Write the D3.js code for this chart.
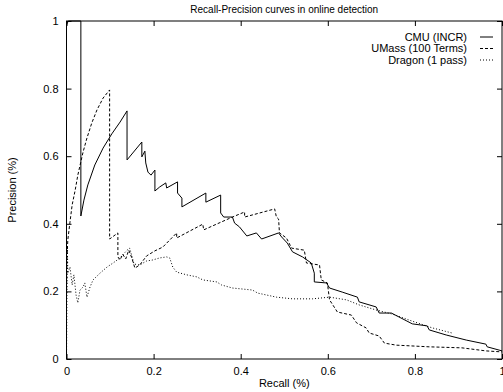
<!DOCTYPE html>
<html>
<head>
<meta charset="utf-8">
<script src="https://cdn.jsdelivr.net/npm/d3@7"></script>
<style>
  body { margin: 0; background: #fff; }
  svg { display: block; font-family: "Liberation Sans", Arial, sans-serif; }
</style>
</head>
<body>
<div id="chart"></div>
<script>
// recall / precision pairs
const cmuPoints = [
  [0, 0.988], [0.004, 1.0], [0.033, 1.0], [0.033, 0.423], [0.040, 0.470], [0.049, 0.515],
  [0.065, 0.574], [0.084, 0.624], [0.104, 0.666], [0.123, 0.701], [0.139, 0.734], [0.139, 0.589],
  [0.173, 0.642], [0.173, 0.598], [0.180, 0.615], [0.182, 0.580], [0.187, 0.553], [0.194, 0.544],
  [0.203, 0.559], [0.203, 0.497], [0.214, 0.509], [0.228, 0.521], [0.230, 0.506], [0.255, 0.524],
  [0.255, 0.491], [0.265, 0.476], [0.265, 0.450], [0.320, 0.491], [0.320, 0.464], [0.354, 0.485],
  [0.354, 0.432], [0.361, 0.420], [0.381, 0.420], [0.386, 0.402], [0.397, 0.391], [0.414, 0.364],
  [0.436, 0.373], [0.448, 0.355], [0.487, 0.373], [0.494, 0.361], [0.507, 0.343], [0.519, 0.317],
  [0.542, 0.302], [0.562, 0.284], [0.569, 0.254], [0.569, 0.228], [0.597, 0.225], [0.604, 0.210],
  [0.633, 0.198], [0.668, 0.183], [0.672, 0.169], [0.711, 0.154], [0.718, 0.136], [0.746, 0.136],
  [0.794, 0.104], [0.828, 0.098], [0.833, 0.086], [0.872, 0.071], [0.918, 0.056], [0.963, 0.044],
  [0.966, 0.036], [1.0, 0.024]
];

const umassPoints = [
  [0, 0], [0, 0.175], [0.001, 0.293], [0.003, 0.352], [0.008, 0.405], [0.013, 0.456],
  [0.020, 0.500], [0.026, 0.544], [0.038, 0.612], [0.047, 0.654], [0.058, 0.698], [0.070, 0.737],
  [0.084, 0.772], [0.099, 0.796], [0.099, 0.355], [0.118, 0.373], [0.118, 0.302], [0.123, 0.293],
  [0.129, 0.310], [0.136, 0.296], [0.143, 0.322], [0.150, 0.299], [0.157, 0.269], [0.168, 0.278],
  [0.184, 0.305], [0.203, 0.320], [0.221, 0.331], [0.237, 0.352], [0.253, 0.373], [0.253, 0.358],
  [0.313, 0.399], [0.315, 0.382], [0.381, 0.420], [0.409, 0.435], [0.409, 0.420], [0.478, 0.444],
  [0.482, 0.420], [0.487, 0.414], [0.489, 0.373], [0.505, 0.358], [0.517, 0.328], [0.546, 0.322],
  [0.551, 0.284], [0.581, 0.278], [0.585, 0.234], [0.599, 0.225], [0.604, 0.175], [0.622, 0.139],
  [0.654, 0.130], [0.666, 0.107], [0.688, 0.092], [0.695, 0.077], [0.718, 0.068], [0.730, 0.047],
  [0.757, 0.041], [0.833, 0.036], [0.908, 0.033], [0.963, 0.024], [1.0, 0.021]
];

const dragonPoints = [
  [0, 0], [0.001, 0.200], [0.002, 0.330], [0.003, 0.254], [0.008, 0.272], [0.013, 0.219],
  [0.017, 0.249], [0.022, 0.189], [0.026, 0.166], [0.031, 0.204], [0.038, 0.213], [0.042, 0.225],
  [0.047, 0.183], [0.054, 0.213], [0.061, 0.234], [0.077, 0.254], [0.093, 0.272], [0.107, 0.284],
  [0.123, 0.299], [0.139, 0.322], [0.145, 0.328], [0.150, 0.305], [0.155, 0.281], [0.168, 0.278],
  [0.184, 0.290], [0.198, 0.293], [0.214, 0.299], [0.230, 0.302], [0.237, 0.299], [0.244, 0.272],
  [0.253, 0.257], [0.276, 0.249], [0.299, 0.243], [0.313, 0.234], [0.345, 0.228], [0.356, 0.219],
  [0.381, 0.210], [0.427, 0.204], [0.439, 0.195], [0.482, 0.183], [0.519, 0.178], [0.565, 0.178],
  [0.604, 0.183], [0.643, 0.175], [0.672, 0.160], [0.711, 0.145], [0.748, 0.133], [0.794, 0.112],
  [0.840, 0.092], [0.885, 0.077]
];

const series = [
  { name: 'CMU (INCR)', points: cmuPoints, dash: null },
  { name: 'UMass (100 Terms)', points: umassPoints, dash: '3,2' },
  { name: 'Dragon (1 pass)', points: dragonPoints, dash: '1,2' }
];

const tickValues = [0, 0.2, 0.4, 0.6, 0.8, 1];

const width = 503;
const height = 392;
const margin = { top: 21, right: 1, bottom: 33, left: 66.5 };

const svg = d3.select('#chart')
  .append('svg')
  .attr('width', width)
  .attr('height', height);

const x = d3.scaleLinear()
  .domain([0, 1])
  .range([margin.left, width - margin.right]);

const y = d3.scaleLinear()
  .domain([0, 1])
  .range([height - margin.bottom, margin.top]);

const fmt = d => d3.format('~g')(d);

// axes, ticks pointing inward, mirrored on top/right
svg.append('g')
  .attr('transform', `translate(0,${y(0)})`)
  .call(d3.axisBottom(x).tickValues(tickValues).tickSizeInner(-5).tickSizeOuter(0).tickPadding(8).tickFormat(fmt));

svg.append('g')
  .attr('transform', `translate(0,${y(1)})`)
  .call(d3.axisTop(x).tickValues(tickValues).tickSizeInner(-5).tickSizeOuter(0).tickFormat(''));

svg.append('g')
  .attr('transform', `translate(${x(0)},0)`)
  .call(d3.axisLeft(y).tickValues(tickValues).tickSizeInner(-5).tickSizeOuter(0).tickPadding(8).tickFormat(fmt));

svg.append('g')
  .attr('transform', `translate(${x(1)},0)`)
  .call(d3.axisRight(y).tickValues(tickValues).tickSizeInner(-5).tickSizeOuter(0).tickFormat(''));

svg.selectAll('.domain').remove();
svg.selectAll('.tick line').attr('stroke', '#000');
svg.selectAll('.tick text')
  .attr('fill', '#000')
  .style('font-size', '11px')
  .style('font-family', '"Liberation Sans", Arial, sans-serif');

// frame
svg.append('rect')
  .attr('x', x(0))
  .attr('y', y(1))
  .attr('width', x(1) - x(0))
  .attr('height', y(0) - y(1))
  .attr('fill', 'none')
  .attr('stroke', '#000')
  .attr('stroke-width', 1);

svg.append('clipPath')
  .attr('id', 'plot-clip')
  .append('rect')
  .attr('x', x(0))
  .attr('y', y(1) - 1)
  .attr('width', x(1) - x(0))
  .attr('height', y(0) - y(1) + 1);

const line = d3.line()
  .x(d => x(d[0]))
  .y(d => y(d[1]));

svg.append('g')
  .attr('clip-path', 'url(#plot-clip)')
  .selectAll('path')
  .data(series)
  .enter()
  .append('path')
  .attr('d', d => line(d.points))
  .attr('fill', 'none')
  .attr('stroke', '#000')
  .attr('stroke-width', 1)
  .attr('stroke-dasharray', d => d.dash);

// legend
const legend = svg.append('g')
  .style('font-size', '11px');

series.forEach((s, i) => {
  const ly = 37 + i * 11.5;
  legend.append('text')
    .attr('x', 467)
    .attr('y', ly)
    .attr('dy', '0.35em')
    .attr('text-anchor', 'end')
    .text(s.name);
  legend.append('line')
    .attr('x1', 480)
    .attr('x2', 493)
    .attr('y1', ly)
    .attr('y2', ly)
    .attr('stroke', '#000')
    .attr('stroke-width', 1)
    .attr('stroke-dasharray', s.dash);
});

// title and axis labels
svg.append('text')
  .attr('x', (x(0) + x(1)) / 2)
  .attr('y', 9)
  .attr('dy', '0.35em')
  .attr('text-anchor', 'middle')
  .style('font-size', '10px')
  .text('Recall-Precision curves in online detection');

svg.append('text')
  .attr('x', (x(0) + x(1)) / 2)
  .attr('y', 383)
  .attr('dy', '0.35em')
  .attr('text-anchor', 'middle')
  .style('font-size', '11px')
  .text('Recall (%)');

svg.append('text')
  .attr('transform', `translate(12,${(y(0) + y(1)) / 2}) rotate(-90)`)
  .attr('dy', '0.35em')
  .attr('text-anchor', 'middle')
  .style('font-size', '11px')
  .text('Precision (%)');
</script>
</body>
</html>
